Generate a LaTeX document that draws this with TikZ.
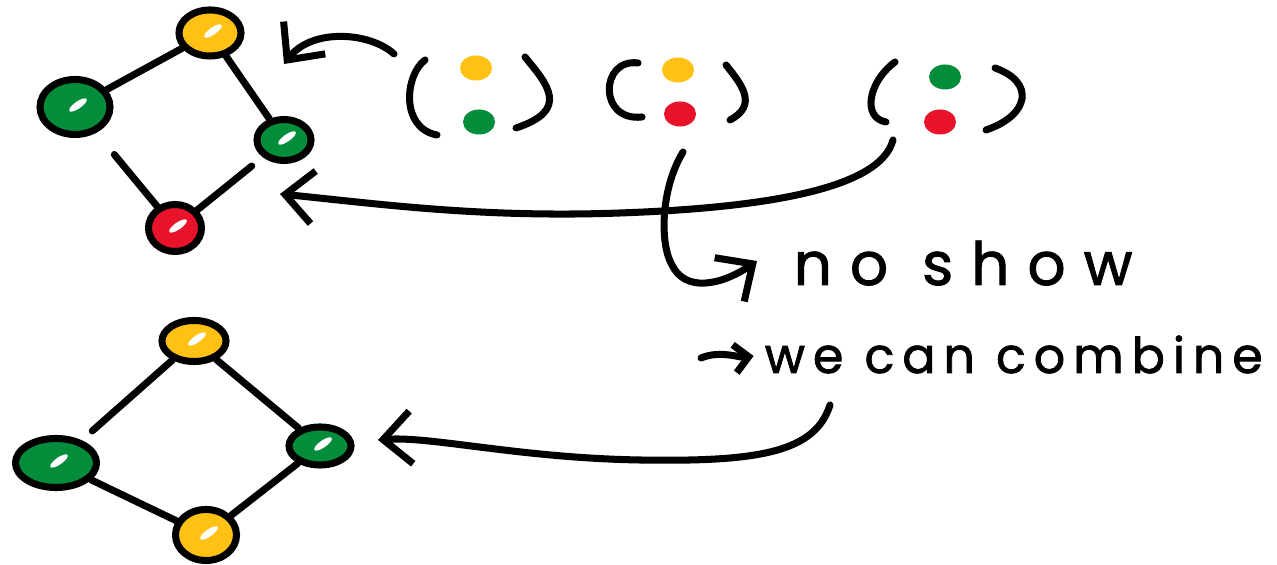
\documentclass[tikz,border=0pt]{standalone}
\usepackage{fontspec}
\setmainfont{Poppins}
\usetikzlibrary{shapes.geometric,arrows.meta}
\definecolor{yel}{HTML}{FFC114}
\definecolor{grn}{HTML}{038C3A}
\definecolor{rd}{HTML}{E8132A}
\begin{document}
\begin{tikzpicture}[x=0.01cm,y=-0.01cm,
  ink/.style={line width=2pt, line cap=round, line join=round},
  dot/.style={ellipse, draw, line width=2pt, inner sep=0pt},
  pdot/.style={ellipse, inner sep=0pt, minimum width=0.32cm, minimum height=0.25cm},
  tipbarb/.style={-{Straight Barb[length=8pt,width=15pt]}},
  smallbarb/.style={-{Straight Barb[length=4pt,width=8pt]}},
  hand/.style={inner sep=0pt, anchor=base west, text=black}
]
\useasboundingbox (0,0) rectangle (1277,565);

% top graph
\node[dot, fill=yel, minimum width=0.62cm, minimum height=0.46cm] (ty) at (210,33) {};
\node[dot, fill=grn, minimum width=0.70cm, minimum height=0.55cm] (tl) at (75,107) {};
\node[dot, fill=grn, minimum width=0.54cm, minimum height=0.41cm] (tr) at (284,140) {};
\node[dot, fill=rd,  minimum width=0.53cm, minimum height=0.47cm] (tb) at (175,228) {};
\draw[ink] (tl) -- (ty);
\draw[ink] (ty) -- (tr);
\draw[ink, shorten <=8pt] (tl) -- (tb);
\draw[ink, shorten <=4pt] (tr) -- (tb);

% bottom graph
\node[dot, fill=yel, minimum width=0.64cm, minimum height=0.41cm] (by) at (194,341) {};
\node[dot, fill=grn, minimum width=0.81cm, minimum height=0.49cm] (bl) at (56,463) {};
\node[dot, fill=grn, minimum width=0.62cm, minimum height=0.38cm] (br) at (320,446) {};
\node[dot, fill=yel, minimum width=0.61cm, minimum height=0.51cm] (bb) at (206,535) {};
\draw[ink, shorten >=4pt] (by) -- (bl);
\draw[ink] (by) -- (br);
\draw[ink] (bl) -- (bb);
\draw[ink] (br) -- (bb);

% highlights
\foreach \n in {ty,tl,tr,tb,by,bl,br,bb}
  \fill[white] ([shift={(3,-2)}]\n.center) circle [x radius=3pt, y radius=1pt, rotate=35];

% pairs
\node[pdot, fill=yel] (p1a) at (476,68) {};
\node[pdot, fill=grn] (p1b) at (479,122) {};
\node[pdot, fill=yel] (p2a) at (678,70) {};
\node[pdot, fill=rd]  (p2b) at (680,114) {};
\node[pdot, fill=grn] (p3a) at (945,77) {};
\node[pdot, fill=rd]  (p3b) at (940,122) {};

\draw[ink] (425,60) .. controls (405,75) and (400,128) .. (437,135);
\draw[ink] (525,57) .. controls (548,85) and (570,110) .. (516,128);
\draw[ink] (638,63) .. controls (600,58) and (598,122) .. (642,117);
\draw[ink] (726,65) .. controls (742,85) and (758,105) .. (730,120);
\draw[ink] (895,62) .. controls (868,82) and (862,118) .. (886,122);
\draw[ink] (995,68) .. controls (1035,82) and (1030,115) .. (986,130);

% arrows
\coordinate (a1s) at (394,54);
\coordinate (a1e) at (284,64);
\draw[ink, tipbarb] (a1s) .. controls (370,32) and (312,28) .. (a1e);

\coordinate (a2s) at (893,140);
\coordinate (a2e) at (280,194);
\draw[ink, tipbarb] (a2s) .. controls (880,190) and (760,208) .. (620,213)
  .. controls (480,218) and (380,204) .. (a2e);

\coordinate (a3s) at (683,152);
\coordinate (a3e) at (757,261);
\draw[ink, tipbarb] (a3s) .. controls (660,190) and (660,245) .. (672,265)
  .. controls (685,292) and (720,286) .. (a3e);

\coordinate (a4s) at (830,405);
\coordinate (a4e) at (378,440);
\draw[ink, tipbarb] (a4s) .. controls (815,452) and (760,462) .. (640,460)
  .. controls (520,458) and (430,436) .. (a4e);

% texts
\node[hand, font=\fontsize{17}{20}\selectfont\addfontfeature{LetterSpace=30,FakeBold=1.5}] (ns) at (793,285) {no show};
\node[hand, font=\fontsize{14}{17}\selectfont\addfontfeature{LetterSpace=16,FakeBold=1.5}] (wc) at (764,373) {we can combine};
\coordinate (wcs) at (701,358);
\draw[ink, smallbarb, shorten >=3pt] (wcs) .. controls (720,350) and (740,358) .. (wc.west);
\end{tikzpicture}
\end{document}
